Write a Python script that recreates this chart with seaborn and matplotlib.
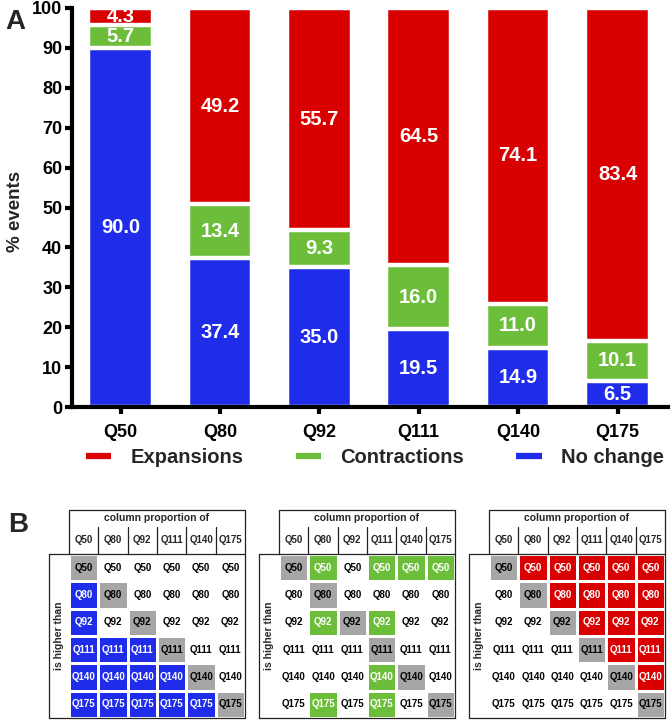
import numpy as np
import pandas as pd
import matplotlib
matplotlib.use("Agg")
import matplotlib.pyplot as plt
from matplotlib.colors import ListedColormap
from matplotlib.lines import Line2D
import seaborn as sns

# Panel A data (% events per quantile)
quantiles = ["Q50", "Q80", "Q92", "Q111", "Q140", "Q175"]
no_change = [90.0, 37.4, 35.0, 19.5, 14.9, 6.5]
contractions = [5.7, 13.4, 9.3, 16.0, 11.0, 10.1]
expansions = [4.3, 49.2, 55.7, 64.5, 74.1, 83.4]

# Panel B: row quantile is higher than column quantile (1 = significant)
nochange_higher = [
    [0, 0, 0, 0, 0, 0],
    [1, 0, 0, 0, 0, 0],
    [1, 0, 0, 0, 0, 0],
    [1, 1, 1, 0, 0, 0],
    [1, 1, 1, 1, 0, 0],
    [1, 1, 1, 1, 1, 0],
]
contraction_higher = [
    [0, 1, 0, 1, 1, 1],
    [0, 0, 0, 0, 0, 0],
    [0, 1, 0, 1, 0, 0],
    [0, 0, 0, 0, 0, 0],
    [0, 0, 0, 1, 0, 0],
    [0, 1, 0, 1, 0, 0],
]
expansion_higher = [
    [0, 1, 1, 1, 1, 1],
    [0, 0, 1, 1, 1, 1],
    [0, 0, 0, 1, 1, 1],
    [0, 0, 0, 0, 1, 1],
    [0, 0, 0, 0, 0, 1],
    [0, 0, 0, 0, 0, 0],
]

RED = "#D80000"
GREEN = "#6CBE3A"
BLUE = "#1F2DEA"
GRAY = "#A6A6A6"

sns.set_style("ticks")
plt.rcParams["font.family"] = ["Liberation Sans", "DejaVu Sans"]
plt.rcParams["font.weight"] = "bold"

fig = plt.figure(figsize=(6.72, 7.2), dpi=100)

# ---- Panel A: stacked bars (layered cumulative totals) ----
ax = fig.add_axes([72 / 672, 313 / 720, 596 / 672, 399 / 720])
df = pd.DataFrame({"q": quantiles, "nc": no_change, "co": contractions, "ex": expansions})
df["top"] = df["nc"] + df["co"] + df["ex"]
df["mid"] = df["nc"] + df["co"]

bar_kw = dict(width=0.65, edgecolor="white", linewidth=3.2, saturation=1, ax=ax)
sns.barplot(data=df, x="q", y="top", color=RED, **bar_kw)
sns.barplot(data=df, x="q", y="mid", color=GREEN, **bar_kw)
sns.barplot(data=df, x="q", y="nc", color=BLUE, **bar_kw)

lab_kw = dict(color="white", ha="center", va="center", fontsize=14.5, fontweight="bold")
for i, row in df.iterrows():
    ax.text(i, row["nc"] / 2, f"{row['nc']:.1f}", **lab_kw)
    ax.text(i, row["nc"] + row["co"] / 2, f"{row['co']:.1f}", **lab_kw)
    ax.text(i, row["mid"] + row["ex"] / 2, f"{row['ex']:.1f}", **lab_kw)

ax.set_xlim(-0.488, 5.508)
ax.set_ylim(0, 100)
ax.set_yticks(range(0, 101, 10))
ax.set_xlabel("")
ax.set_ylabel("% events", fontsize=13.5, fontweight="bold")
ax.yaxis.set_label_coords(-0.08, 0.49)
sns.despine(ax=ax)
for s in ["left", "bottom"]:
    ax.spines[s].set_linewidth(3)
    ax.spines[s].set_color("black")
ax.tick_params(width=3, length=5, labelsize=13, colors="black")
ax.tick_params(axis="x", pad=7)
ax.tick_params(axis="y", pad=2)

handles = [Line2D([], [], color=c, lw=4.5, solid_capstyle="butt") for c in (RED, GREEN, BLUE)]
fig.legend(handles, ["Expansions", "Contractions", "No change"], loc="center",
           bbox_to_anchor=(0.558, 0.364), ncol=3, frameon=False,
           prop=dict(size=14.5, weight="bold"), handlelength=1.25, handletextpad=0.95,
           columnspacing=2.6)

fig.text(0.008, 0.97, "A", fontsize=20, fontweight="bold", va="center")
fig.text(0.012, 0.271, "B", fontsize=20, fontweight="bold", va="center")

# ---- Panel B: three significance tables ----
labels = np.array([[q] * 6 for q in quantiles])
for k, (mask, col) in enumerate([(nochange_higher, BLUE), (contraction_higher, GREEN),
                                  (expansion_higher, RED)]):
    bx = fig.add_axes([(69 + 210 * k) / 672, 2 / 720, 176 / 672, 164 / 720])
    codes = np.array(mask) * 2 + np.eye(6, dtype=int)
    sns.heatmap(codes, cmap=ListedColormap(["white", GRAY, col]), vmin=-0.5, vmax=2.5,
                annot=labels, fmt="", cbar=False, linewidths=0.8, linecolor="white",
                xticklabels=False, yticklabels=False,
                annot_kws=dict(fontsize=7, fontweight="bold"), ax=bx)
    for t in bx.texts:
        x, y = t.get_position()
        t.set_color("white" if codes[int(y), int(x)] == 2 else "black")

    lk = dict(color="#222222", lw=0.9, clip_on=False)
    top = -1.61
    left = -0.68
    bx.plot([0, 6], [top, top], **lk)
    bx.plot([0, 0], [top, 0], **lk)
    bx.plot([6, 6], [top, 6], **lk)
    for j in range(1, 6):
        bx.plot([j, j], [-1, 0], **lk)
    bx.plot([left, 6], [0, 0], **lk)
    bx.plot([left, left], [0, 6], **lk)
    bx.plot([left, 6], [6, 6], **lk)
    bx.text(3, -1.3, "column proportion of", ha="center", va="center", fontsize=7.5,
            fontweight="bold")
    for j, q in enumerate(quantiles):
        bx.text(j + 0.5, -0.5, q, ha="center", va="center", fontsize=7, fontweight="bold")
    bx.text(left / 2, 3, "is higher than", ha="center", va="center", rotation=90,
            fontsize=7.5, fontweight="bold")

fig.savefig("out.png", dpi=100)
